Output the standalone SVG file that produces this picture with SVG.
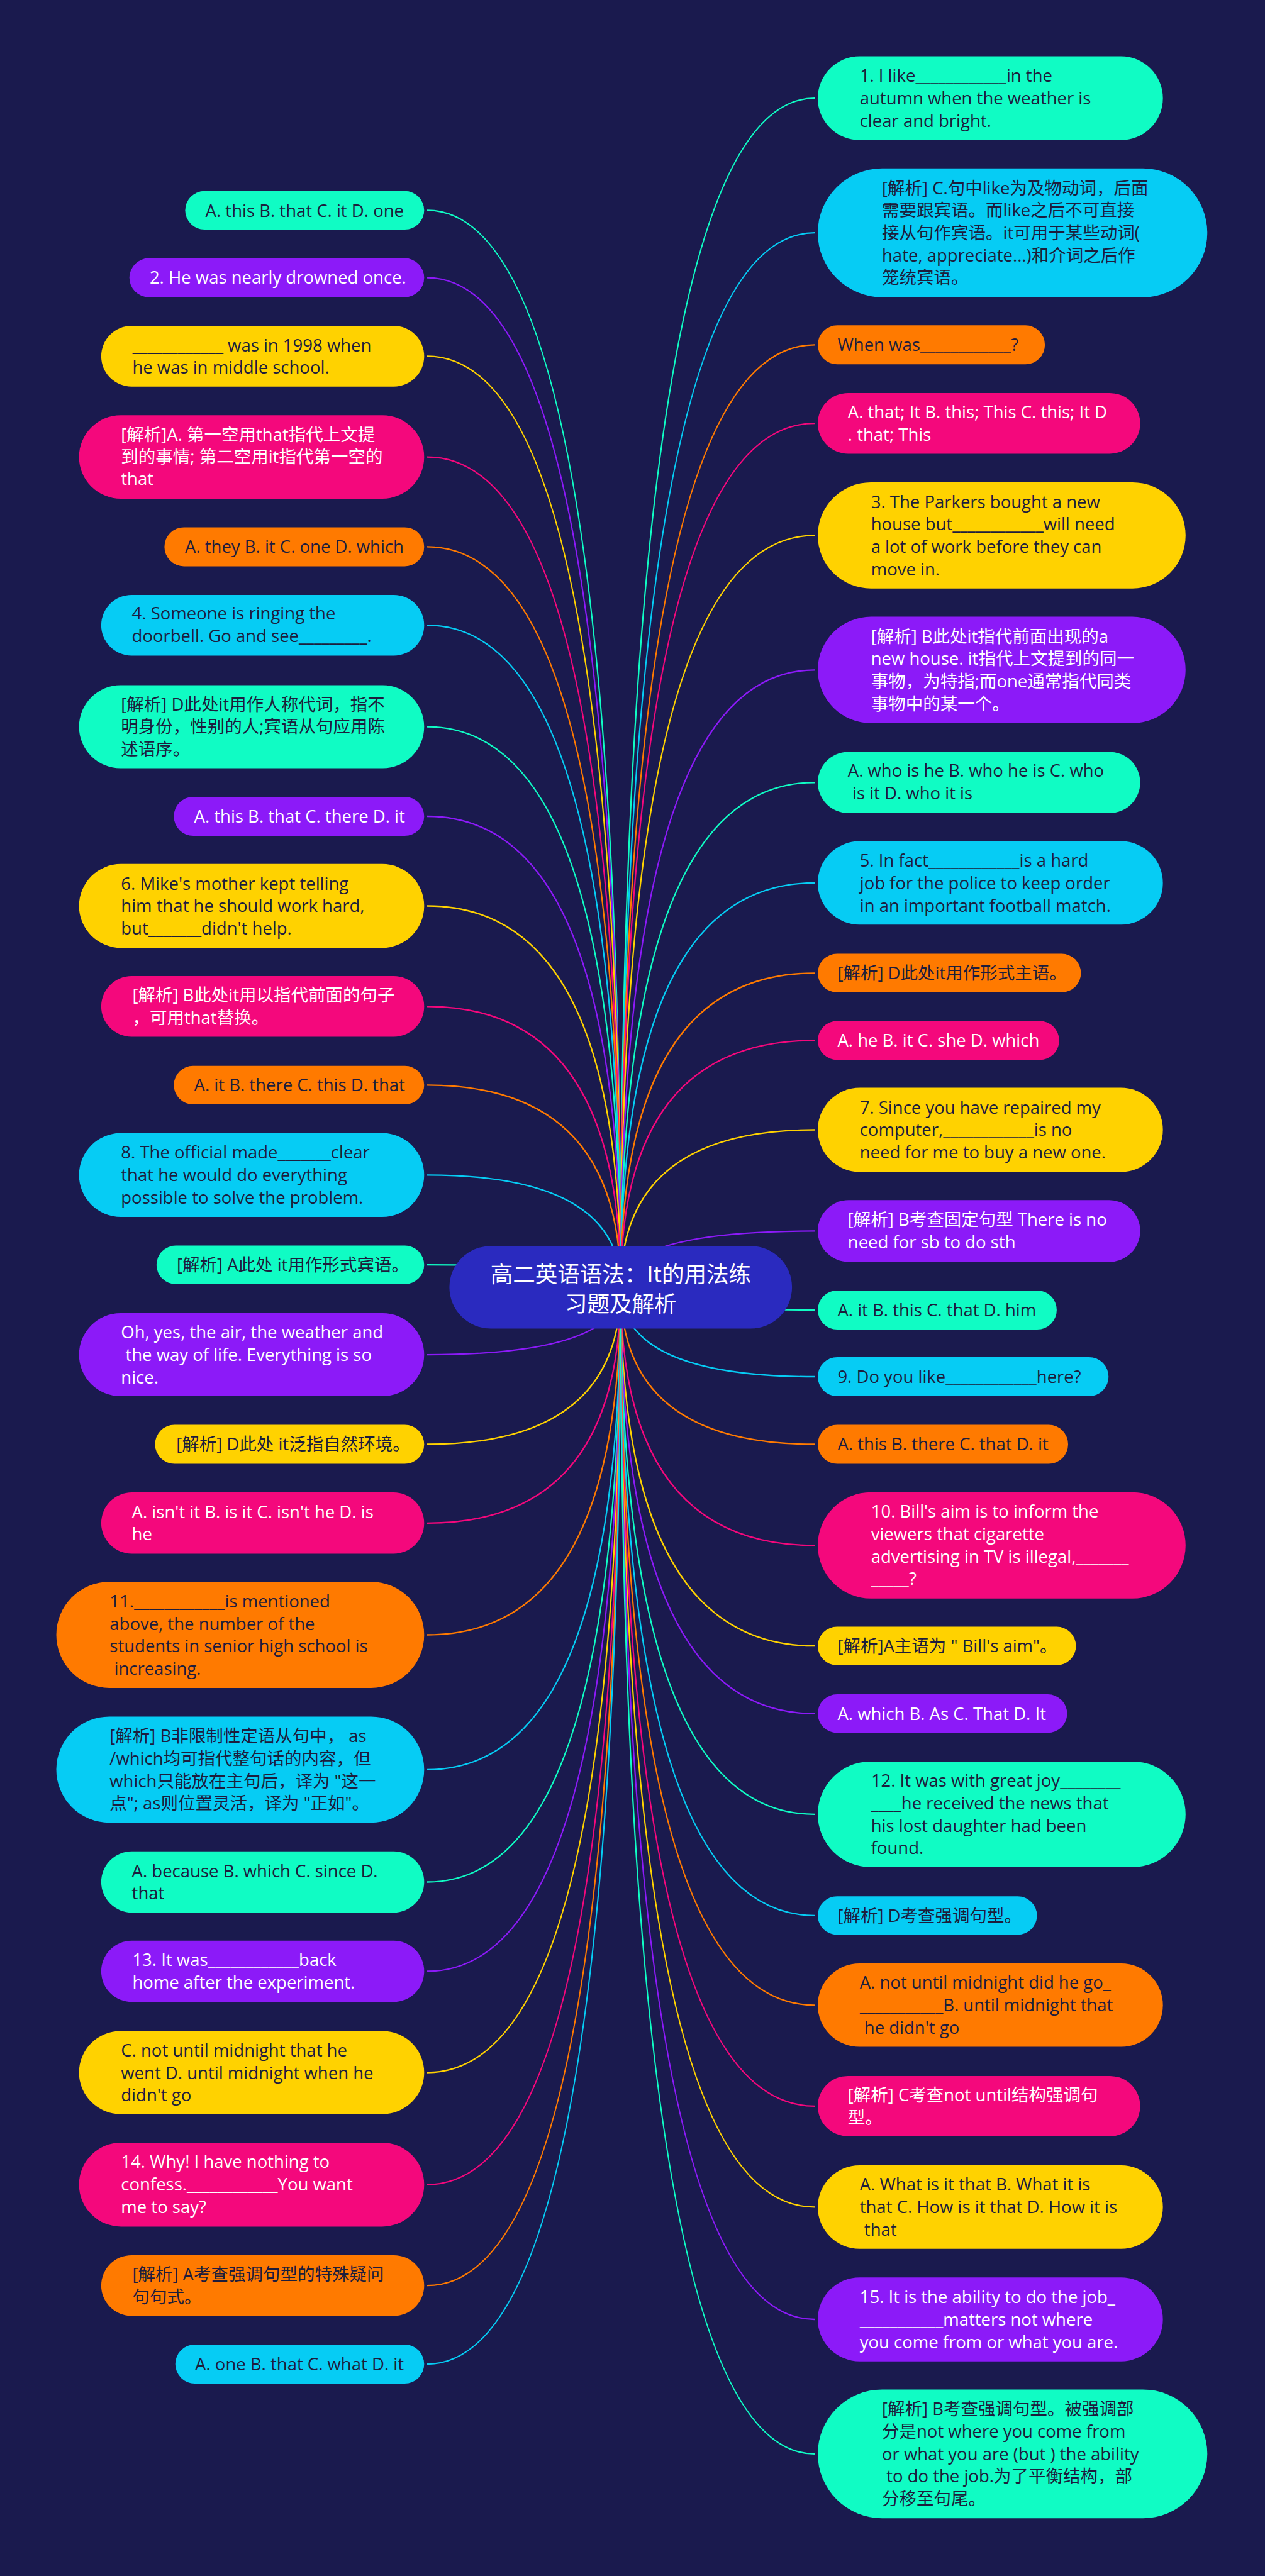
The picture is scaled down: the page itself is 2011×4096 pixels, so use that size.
<svg xmlns="http://www.w3.org/2000/svg" width="2011" height="4096" viewBox="0 0 2011 4096">
<style>
.t{font-family:"Open Sans","Noto Sans CJK SC",sans-serif;font-size:27.5px;white-space:pre}
.dk{fill:#1d1d3d}
.wt{fill:#ffffff}
.mint{fill:#10fcc4}.purple{fill:#8c1af8}.yellow{fill:#ffd200}.pink{fill:#f4087c}.orange{fill:#ff7a00}.sky{fill:#06ccf4}
#connectors path{fill:none;stroke-width:2.3}
.cm{stroke:#10fcc4}.cp{stroke:#8c1af8}.cy{stroke:#ffd200}.ck{stroke:#f4087c}.co{stroke:#ff7a00}.cs{stroke:#06ccf4}
.title{font-family:"Noto Sans CJK SC",sans-serif;font-size:35.5px;fill:#ffffff;text-anchor:middle}
</style>
<rect x="0" y="0" width="2011" height="4096" fill="#1a1a4e"/>
<g id="connectors">
<path class="cm" d="M986.7 2046.8Q986.7 334.4 679 334.4"/>
<path class="cp" d="M986.7 2046.8Q986.7 441.6 679 441.6"/>
<path class="cy" d="M986.7 2046.8Q986.7 566.4 679 566.4"/>
<path class="ck" d="M986.7 2046.8Q986.7 726.6 679 726.6"/>
<path class="co" d="M986.7 2046.8Q986.7 869.4 679 869.4"/>
<path class="cs" d="M986.7 2046.8Q986.7 994.2 679 994.2"/>
<path class="cm" d="M986.7 2046.8Q986.7 1155.6 679 1155.6"/>
<path class="cp" d="M986.7 2046.8Q986.7 1298 679 1298"/>
<path class="cy" d="M986.7 2046.8Q986.7 1440.5 679 1440.5"/>
<path class="ck" d="M986.7 2046.8Q986.7 1600.3 679 1600.3"/>
<path class="co" d="M986.7 2046.8Q986.7 1725.4 679 1725.4"/>
<path class="cs" d="M986.7 2046.8Q986.7 1868.3 679 1868.3"/>
<path class="cm" d="M986.7 2046.8Q986.7 2011.2 679 2011.2"/>
<path class="cp" d="M986.7 2046.8Q986.7 2154.1 679 2154.1"/>
<path class="cy" d="M986.7 2046.8Q986.7 2296.5 679 2296.5"/>
<path class="ck" d="M986.7 2046.8Q986.7 2421.8 679 2421.8"/>
<path class="co" d="M986.7 2046.8Q986.7 2599.5 679 2599.5"/>
<path class="cs" d="M986.7 2046.8Q986.7 2813.8 679 2813.8"/>
<path class="cm" d="M986.7 2046.8Q986.7 2992.5 679 2992.5"/>
<path class="cp" d="M986.7 2046.8Q986.7 3134.5 679 3134.5"/>
<path class="cy" d="M986.7 2046.8Q986.7 3295.5 679 3295.5"/>
<path class="ck" d="M986.7 2046.8Q986.7 3473.7 679 3473.7"/>
<path class="co" d="M986.7 2046.8Q986.7 3634.2 679 3634.2"/>
<path class="cs" d="M986.7 2046.8Q986.7 3759 679 3759"/>
<path class="cm" d="M986.7 2046.8Q986.7 156.2 1295 156.2"/>
<path class="cs" d="M986.7 2046.8Q986.7 370.2 1295 370.2"/>
<path class="co" d="M986.7 2046.8Q986.7 548.3 1295 548.3"/>
<path class="ck" d="M986.7 2046.8Q986.7 673.2 1295 673.2"/>
<path class="cy" d="M986.7 2046.8Q986.7 851.4 1295 851.4"/>
<path class="cp" d="M986.7 2046.8Q986.7 1065.3 1295 1065.3"/>
<path class="cm" d="M986.7 2046.8Q986.7 1244.3 1295 1244.3"/>
<path class="cs" d="M986.7 2046.8Q986.7 1404 1295 1404"/>
<path class="co" d="M986.7 2046.8Q986.7 1547.3 1295 1547.3"/>
<path class="ck" d="M986.7 2046.8Q986.7 1654.4 1295 1654.4"/>
<path class="cy" d="M986.7 2046.8Q986.7 1796.5 1295 1796.5"/>
<path class="cp" d="M986.7 2046.8Q986.7 1957.4 1295 1957.4"/>
<path class="cm" d="M986.7 2046.8Q986.7 2083 1295 2083"/>
<path class="cs" d="M986.7 2046.8Q986.7 2189 1295 2189"/>
<path class="co" d="M986.7 2046.8Q986.7 2296.5 1295 2296.5"/>
<path class="ck" d="M986.7 2046.8Q986.7 2457.3 1295 2457.3"/>
<path class="cy" d="M986.7 2046.8Q986.7 2617.2 1295 2617.2"/>
<path class="cp" d="M986.7 2046.8Q986.7 2724.8 1295 2724.8"/>
<path class="cm" d="M986.7 2046.8Q986.7 2884.9 1295 2884.9"/>
<path class="cs" d="M986.7 2046.8Q986.7 3045.8 1295 3045.8"/>
<path class="co" d="M986.7 2046.8Q986.7 3188.3 1295 3188.3"/>
<path class="ck" d="M986.7 2046.8Q986.7 3348.8 1295 3348.8"/>
<path class="cy" d="M986.7 2046.8Q986.7 3509.4 1295 3509.4"/>
<path class="cp" d="M986.7 2046.8Q986.7 3688 1295 3688"/>
<path class="cm" d="M986.7 2046.8Q986.7 3901.9 1295 3901.9"/>
</g>
<g id="center">
<rect x="714.4" y="1981.3" width="544.7" height="131.1" rx="65.6" fill="#2a2abf"/>
<text class="title"><tspan x="986.8" y="2039">高二英语语法：It的用法练</tspan><tspan x="986.8" y="2086">习题及解析</tspan></text>
</g>
<g id="L1"><rect class="mint" x="294.4" y="303.8" width="379.9" height="61.2" rx="30.6"/><text class="t dk" x="326.6" y="345">A. this B. that C. it D. one</text></g>
<g id="L2"><rect class="purple" x="205.7" y="410.6" width="468.6" height="62" rx="31"/><text class="t wt" x="237.9" y="451.4">2. He was nearly drowned once.</text></g>
<g id="L3"><rect class="yellow" x="160.9" y="518.1" width="513.4" height="96.6" rx="48.3"/><text class="t dk"><tspan x="210.4" y="558.5">____________ was in 1998 when</tspan><tspan x="210.4" y="593.9">he was in middle school.</tspan></text></g>
<g id="L4"><rect class="pink" x="125.6" y="660.2" width="548.7" height="132.7" rx="66.4"/><text class="t wt"><tspan x="192.3" y="700.6">[解析]A. 第一空用that指代上文提</tspan><tspan x="192.3" y="735.9">到的事情; 第二空用it指代第一空的</tspan><tspan x="192.3" y="770.5">that</tspan></text></g>
<g id="L5"><rect class="orange" x="261.4" y="838.4" width="412.9" height="62" rx="31"/><text class="t dk" x="294" y="879.2">A. they B. it C. one D. which</text></g>
<g id="L6"><rect class="sky" x="160.9" y="945.9" width="513.4" height="96.6" rx="48.3"/><text class="t dk"><tspan x="209.6" y="984.8">4. Someone is ringing the</tspan><tspan x="209.6" y="1020.9">doorbell. Go and see_________.</tspan></text></g>
<g id="L7"><rect class="mint" x="125.6" y="1089.6" width="548.7" height="131.9" rx="66"/><text class="t dk"><tspan x="192.3" y="1129.6">[解析] D此处it用作人称代词，指不</tspan><tspan x="192.3" y="1165.3">明身份，性别的人;宾语从句应用陈</tspan><tspan x="192.3" y="1201.1">述语序。</tspan></text></g>
<g id="L8"><rect class="purple" x="276.3" y="1267" width="398" height="62" rx="31"/><text class="t wt" x="308.5" y="1307.8">A. this B. that C. there D. it</text></g>
<g id="L9"><rect class="yellow" x="125.6" y="1373.8" width="548.7" height="133.4" rx="66.7"/><text class="t dk"><tspan x="192.3" y="1414.6">6. Mike's mother kept telling</tspan><tspan x="192.3" y="1450.3">him that he should work hard,</tspan><tspan x="192.3" y="1486">but_______didn't help.</tspan></text></g>
<g id="L10"><rect class="pink" x="160.9" y="1552" width="513.4" height="96.5" rx="48.3"/><text class="t wt"><tspan x="210.4" y="1592.4">[解析] B此处it用以指代前面的句子</tspan><tspan x="210.4" y="1627.7">，可用that替换。</tspan></text></g>
<g id="L11"><rect class="orange" x="276.3" y="1694.8" width="398" height="61.2" rx="30.6"/><text class="t dk" x="308.5" y="1735.2">A. it B. there C. this D. that</text></g>
<g id="L12"><rect class="sky" x="125.6" y="1801.6" width="548.7" height="133.4" rx="66.7"/><text class="t dk"><tspan x="192.3" y="1842.4">8. The official made_______clear</tspan><tspan x="192.3" y="1878.1">that he would do everything</tspan><tspan x="192.3" y="1913.8">possible to solve the problem.</tspan></text></g>
<g id="L13"><rect class="mint" x="248.8" y="1980.6" width="425.5" height="61.2" rx="30.6"/><text class="t dk" x="281" y="2021">[解析] A此处 it用作形式宾语。</text></g>
<g id="L14"><rect class="purple" x="125.6" y="2088.1" width="548.7" height="131.9" rx="66"/><text class="t wt"><tspan x="192.3" y="2128.1">Oh, yes, the air, the weather and</tspan><tspan x="192.3" y="2163.9"> the way of life. Everything is so</tspan><tspan x="192.3" y="2199.6">nice.</tspan></text></g>
<g id="L15"><rect class="yellow" x="246.5" y="2265.5" width="427.8" height="62" rx="31"/><text class="t dk" x="280.2" y="2306.3">[解析] D此处 it泛指自然环境。</text></g>
<g id="L16"><rect class="pink" x="160.9" y="2373.1" width="513.4" height="97.3" rx="48.7"/><text class="t wt"><tspan x="209.6" y="2413.5">A. isn't it B. is it C. isn't he D. is</tspan><tspan x="209.6" y="2448.8">he</tspan></text></g>
<g id="L17"><rect class="orange" x="89.5" y="2515.1" width="584.8" height="168.8" rx="84.4"/><text class="t dk"><tspan x="174.3" y="2555.8">11.____________is mentioned</tspan><tspan x="174.3" y="2591.5">above, the number of the</tspan><tspan x="174.3" y="2627.2">students in senior high school is</tspan><tspan x="174.3" y="2662.9"> increasing.</tspan></text></g>
<g id="L18"><rect class="sky" x="89.5" y="2729.4" width="584.8" height="168.8" rx="84.4"/><text class="t dk"><tspan x="174.3" y="2770.1">[解析] B非限制性定语从句中， as</tspan><tspan x="174.3" y="2805.8">/which均可指代整句话的内容，但</tspan><tspan x="174.3" y="2841.5">which只能放在主句后，译为 "这一</tspan><tspan x="174.3" y="2877.2">点"; as则位置灵活，译为 "正如"。</tspan></text></g>
<g id="L19"><rect class="mint" x="160.9" y="2943.8" width="513.4" height="97.3" rx="48.7"/><text class="t dk"><tspan x="209.6" y="2985">A. because B. which C. since D.</tspan><tspan x="209.6" y="3020.3">that</tspan></text></g>
<g id="L20"><rect class="purple" x="160.9" y="3085.8" width="513.4" height="97.4" rx="48.7"/><text class="t wt"><tspan x="210.4" y="3126.3">13. It was____________back</tspan><tspan x="210.4" y="3162.4">home after the experiment.</tspan></text></g>
<g id="L21"><rect class="yellow" x="125.6" y="3229.5" width="548.7" height="131.9" rx="66"/><text class="t dk"><tspan x="192.3" y="3269.9">C. not until midnight that he</tspan><tspan x="192.3" y="3306">went D. until midnight when he</tspan><tspan x="192.3" y="3341.4">didn't go</tspan></text></g>
<g id="L22"><rect class="pink" x="125.6" y="3406.9" width="548.7" height="133.5" rx="66.7"/><text class="t wt"><tspan x="192.3" y="3447.3">14. Why! I have nothing to</tspan><tspan x="192.3" y="3483.4">confess.____________You want</tspan><tspan x="192.3" y="3518.8">me to say?</tspan></text></g>
<g id="L23"><rect class="orange" x="160.9" y="3585.9" width="513.4" height="96.5" rx="48.3"/><text class="t dk"><tspan x="210.4" y="3626.3">[解析] A考查强调句型的特殊疑问</tspan><tspan x="210.4" y="3662.4">句句式。</tspan></text></g>
<g id="L24"><rect class="sky" x="278.7" y="3728" width="395.6" height="62" rx="31"/><text class="t dk" x="310.1" y="3768.8">A. one B. that C. what D. it</text></g>
<g id="R1"><rect class="mint" x="1300" y="89.5" width="548.7" height="133.4" rx="66.7"/><text class="t dk"><tspan x="1366.7" y="130.3">1. I like____________in the</tspan><tspan x="1366.7" y="166">autumn when the weather is</tspan><tspan x="1366.7" y="201.7">clear and bright.</tspan></text></g>
<g id="R2"><rect class="sky" x="1300" y="267.7" width="619.3" height="204.9" rx="102.5"/><text class="t dk"><tspan x="1402" y="308.5">[解析] C.句中like为及物动词，后面</tspan><tspan x="1402" y="344.2">需要跟宾语。而like之后不可直接</tspan><tspan x="1402" y="379.9">接从句作宾语。it可用于某些动词(</tspan><tspan x="1402" y="415.7">hate, appreciate...)和介词之后作</tspan><tspan x="1402" y="451.4">笼统宾语。</tspan></text></g>
<g id="R3"><rect class="orange" x="1300" y="517.3" width="361.1" height="62" rx="31"/><text class="t dk" x="1331.4" y="558.1">When was____________?</text></g>
<g id="R4"><rect class="pink" x="1300" y="624.9" width="512.6" height="96.5" rx="48.3"/><text class="t wt"><tspan x="1347.8" y="665.3">A. that; It B. this; This C. this; It D</tspan><tspan x="1347.8" y="700.6">. that; This</tspan></text></g>
<g id="R5"><rect class="yellow" x="1300" y="767" width="584.8" height="168.7" rx="84.4"/><text class="t dk"><tspan x="1384.7" y="807.6">3. The Parkers bought a new</tspan><tspan x="1384.7" y="843.3">house but____________will need</tspan><tspan x="1384.7" y="879">a lot of work before they can</tspan><tspan x="1384.7" y="914.7">move in.</tspan></text></g>
<g id="R6"><rect class="purple" x="1300" y="980.5" width="584.8" height="169.5" rx="84.8"/><text class="t wt"><tspan x="1384.7" y="1021.5">[解析] B此处it指代前面出现的a</tspan><tspan x="1384.7" y="1057.2">new house. it指代上文提到的同一</tspan><tspan x="1384.7" y="1092.9">事物，为特指;而one通常指代同类</tspan><tspan x="1384.7" y="1128.6">事物中的某一个。</tspan></text></g>
<g id="R7"><rect class="mint" x="1300" y="1195.6" width="512.6" height="97.3" rx="48.7"/><text class="t dk"><tspan x="1347.8" y="1235.2">A. who is he B. who he is C. who</tspan><tspan x="1347.8" y="1271.3"> is it D. who it is</tspan></text></g>
<g id="R8"><rect class="sky" x="1300" y="1337.6" width="548.7" height="132.7" rx="66.4"/><text class="t dk"><tspan x="1366.7" y="1378.1">5. In fact____________is a hard</tspan><tspan x="1366.7" y="1413.8">job for the police to keep order</tspan><tspan x="1366.7" y="1449.5">in an important football match.</tspan></text></g>
<g id="R9"><rect class="orange" x="1300" y="1516.6" width="418.4" height="61.3" rx="30.7"/><text class="t dk" x="1331.4" y="1557">[解析] D此处it用作形式主语。</text></g>
<g id="R10"><rect class="pink" x="1300" y="1623.4" width="383.8" height="62" rx="31"/><text class="t wt" x="1331.4" y="1664.2">A. he B. it C. she D. which</text></g>
<g id="R11"><rect class="yellow" x="1300" y="1729.4" width="548.7" height="134.2" rx="67.1"/><text class="t dk"><tspan x="1366.7" y="1770.6">7. Since you have repaired my</tspan><tspan x="1366.7" y="1806.3">computer,____________is no</tspan><tspan x="1366.7" y="1842">need for me to buy a new one.</tspan></text></g>
<g id="R12"><rect class="purple" x="1300" y="1908.3" width="512.6" height="98.2" rx="49.1"/><text class="t wt"><tspan x="1347.8" y="1948.8">[解析] B考查固定句型 There is no</tspan><tspan x="1347.8" y="1984.9">need for sb to do sth</tspan></text></g>
<g id="R13"><rect class="mint" x="1300" y="2052" width="379.9" height="62" rx="31"/><text class="t dk" x="1331.4" y="2092.8">A. it B. this C. that D. him</text></g>
<g id="R14"><rect class="sky" x="1300" y="2158" width="462.3" height="62" rx="31"/><text class="t dk" x="1331.4" y="2198.8">9. Do you like____________here?</text></g>
<g id="R15"><rect class="orange" x="1300" y="2265.5" width="398" height="62" rx="31"/><text class="t dk" x="1331.4" y="2306.3">A. this B. there C. that D. it</text></g>
<g id="R16"><rect class="pink" x="1300" y="2372.7" width="584.8" height="169.1" rx="84.6"/><text class="t wt"><tspan x="1384.7" y="2413.3">10. Bill's aim is to inform the</tspan><tspan x="1384.7" y="2449">viewers that cigarette</tspan><tspan x="1384.7" y="2484.7">advertising in TV is illegal,_______</tspan><tspan x="1384.7" y="2520.4">_____?</tspan></text></g>
<g id="R17"><rect class="yellow" x="1300" y="2586.6" width="410.5" height="61.2" rx="30.6"/><text class="t dk" x="1331.4" y="2627">[解析]A主语为 " Bill's aim"。</text></g>
<g id="R18"><rect class="purple" x="1300" y="2694.1" width="396.4" height="61.3" rx="30.7"/><text class="t wt" x="1331.4" y="2734.5">A. which B. As C. That D. It</text></g>
<g id="R19"><rect class="mint" x="1300" y="2800.9" width="584.8" height="168" rx="84"/><text class="t dk"><tspan x="1384.7" y="2841.1">12. It was with great joy________</tspan><tspan x="1384.7" y="2876.8">____he received the news that</tspan><tspan x="1384.7" y="2912.5">his lost daughter had been</tspan><tspan x="1384.7" y="2948.3">found.</tspan></text></g>
<g id="R20"><rect class="sky" x="1300" y="3015.2" width="348.5" height="61.2" rx="30.6"/><text class="t dk" x="1331.4" y="3055.6">[解析] D考查强调句型。</text></g>
<g id="R21"><rect class="orange" x="1300" y="3122" width="548.7" height="132.6" rx="66.3"/><text class="t dk"><tspan x="1366.7" y="3162.4">A. not until midnight did he go_</tspan><tspan x="1366.7" y="3198.1">___________B. until midnight that</tspan><tspan x="1366.7" y="3233.8"> he didn't go</tspan></text></g>
<g id="R22"><rect class="pink" x="1300" y="3300.9" width="512.6" height="95.8" rx="47.9"/><text class="t wt"><tspan x="1347.8" y="3340.8">[解析] C考查not until结构强调句</tspan><tspan x="1347.8" y="3376.5">型。</tspan></text></g>
<g id="R23"><rect class="yellow" x="1300" y="3443" width="548.7" height="132.7" rx="66.4"/><text class="t dk"><tspan x="1366.7" y="3483.4">A. What is it that B. What it is</tspan><tspan x="1366.7" y="3519.2">that C. How is it that D. How it is</tspan><tspan x="1366.7" y="3554.9"> that</tspan></text></g>
<g id="R24"><rect class="purple" x="1300" y="3621.2" width="548.7" height="133.5" rx="66.8"/><text class="t wt"><tspan x="1366.7" y="3662">15. It is the ability to do the job_</tspan><tspan x="1366.7" y="3697.7">___________matters not where</tspan><tspan x="1366.7" y="3733.5">you come from or what you are.</tspan></text></g>
<g id="R25"><rect class="mint" x="1300" y="3799.4" width="619.3" height="204.9" rx="102.5"/><text class="t dk"><tspan x="1402" y="3840.2">[解析] B考查强调句型。被强调部</tspan><tspan x="1402" y="3875.9">分是not where you come from</tspan><tspan x="1402" y="3911.7">or what you are (but ) the ability</tspan><tspan x="1402" y="3947.4"> to do the job.为了平衡结构，部</tspan><tspan x="1402" y="3983.1">分移至句尾。</tspan></text></g>
</svg>
